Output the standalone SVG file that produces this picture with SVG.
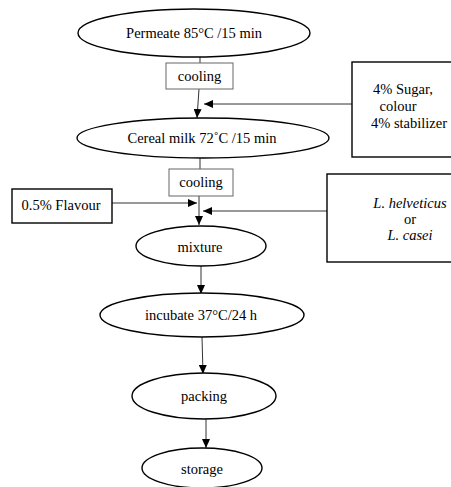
<svg xmlns="http://www.w3.org/2000/svg" width="451" height="487" viewBox="0 0 451 487">
<defs>
<style>
.n{fill:#fff;stroke:#000;stroke-width:1.4}
.g{fill:#fff;stroke:#666;stroke-width:1}
.t{font-family:"Liberation Serif","Times New Roman",serif;font-size:14.5px;fill:#000;text-anchor:middle}
.i{font-style:italic}
.c{fill:none;stroke:#333;stroke-width:1;marker-end:url(#ah)}
.p{fill:none;stroke:#333;stroke-width:1}
</style>
<marker id="ah" viewBox="0 0 9 8" refX="9" refY="4" markerWidth="9" markerHeight="8" markerUnits="userSpaceOnUse" orient="auto">
<path d="M0,0 L9,4 L0,8 z" fill="#000"/>
</marker>
</defs>
<rect width="451" height="487" fill="#fff"/>
<g id="connectors">
<line class="p" x1="200" y1="57" x2="200" y2="63"/>
<line class="c" x1="199" y1="89" x2="197" y2="118"/>
<line class="c" x1="352" y1="104" x2="204" y2="104"/>
<line class="p" x1="200" y1="158" x2="200" y2="169"/>
<line class="c" x1="199" y1="196" x2="199" y2="225"/>
<line class="c" x1="112" y1="203" x2="197" y2="203"/>
<line class="c" x1="327" y1="211" x2="203" y2="211"/>
<line class="c" x1="201" y1="266" x2="201" y2="294"/>
<line class="c" x1="202" y1="337" x2="203" y2="374"/>
<line class="c" x1="206" y1="419" x2="206" y2="448"/>
</g>
<g id="permeate">
<ellipse class="n" cx="194" cy="33" rx="116" ry="24"/>
<text class="t" x="194" y="38">Permeate 85°C /15 min</text>
</g>
<g id="cooling1">
<rect class="g" x="166" y="63" width="67" height="26"/>
<text class="t" x="199.5" y="81">cooling</text>
</g>
<g id="sugar">
<rect class="n" x="352" y="62" width="104" height="95"/>
<text class="t" x="403" y="94">4% Sugar,</text>
<text class="t" x="398" y="111">colour</text>
<text class="t" x="409" y="128">4% stabilizer</text>
</g>
<g id="cereal">
<ellipse class="n" cx="203" cy="138" rx="126" ry="20"/>
<text class="t" x="202" y="143">Cereal milk 72˚C /15 min</text>
</g>
<g id="cooling2">
<rect class="g" x="169" y="169" width="64" height="27"/>
<text class="t" x="201" y="187">cooling</text>
</g>
<g id="flavour">
<rect class="n" x="12" y="189" width="100" height="34"/>
<text class="t" x="61" y="210">0.5% Flavour</text>
</g>
<g id="lacto">
<rect class="n" x="327" y="174" width="129" height="88"/>
<text class="t i" x="410" y="208">L. helveticus</text>
<text class="t" x="410" y="224">or</text>
<text class="t i" x="410" y="240">L. casei</text>
</g>
<g id="mixture">
<ellipse class="n" cx="201" cy="246" rx="65" ry="20"/>
<text class="t" x="200" y="252">mixture</text>
</g>
<g id="incubate">
<ellipse class="n" cx="202" cy="315" rx="102" ry="22"/>
<text class="t" x="201" y="320">incubate 37°C/24 h</text>
</g>
<g id="packing">
<ellipse class="n" cx="204" cy="396" rx="72" ry="23"/>
<text class="t" x="204" y="401">packing</text>
</g>
<g id="storage">
<ellipse class="n" cx="202" cy="468" rx="60" ry="20"/>
<text class="t" x="202" y="474">storage</text>
</g>
</svg>
